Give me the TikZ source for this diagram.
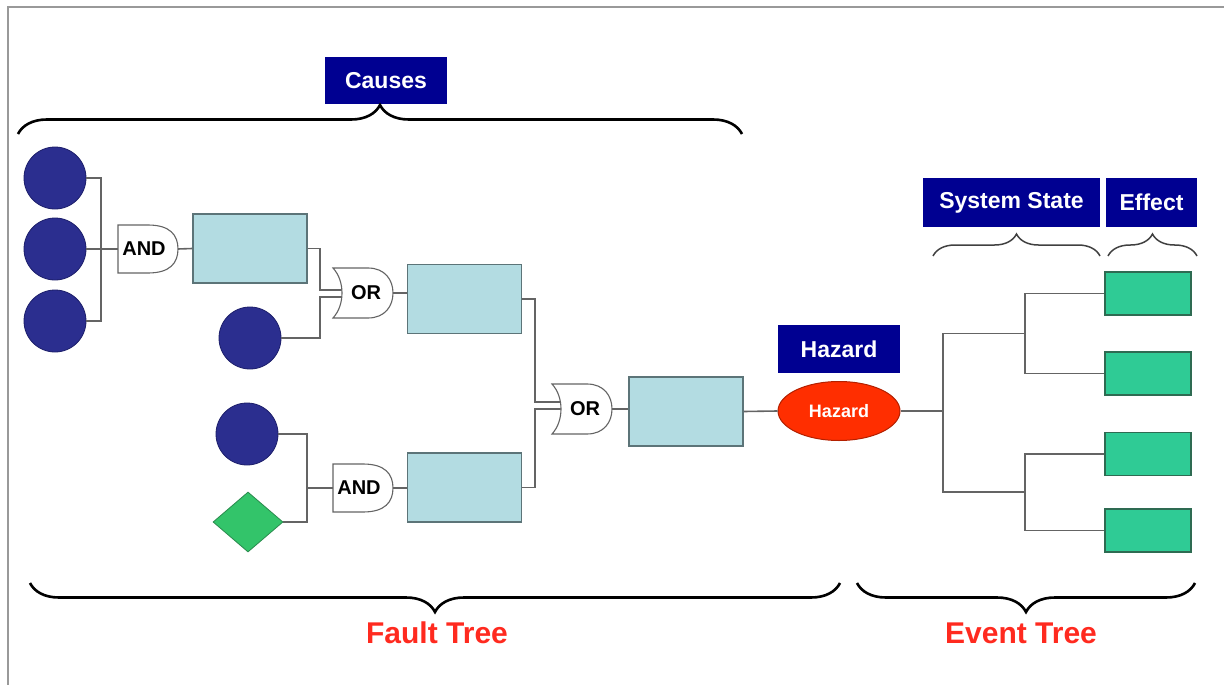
\documentclass[tikz,border=0pt]{standalone}
\usepackage{fontspec}
\setmainfont{Liberation Sans}
\usetikzlibrary{shapes.geometric,decorations.pathreplacing,calc}
\definecolor{lblblue}{RGB}{0,0,145}
\definecolor{evblue}{RGB}{43,46,143}
\definecolor{evbluedk}{RGB}{28,30,106}
\definecolor{boxblue}{RGB}{179,220,226}
\definecolor{boxbluedk}{RGB}{92,116,120}
\definecolor{effgreen}{RGB}{47,203,149}
\definecolor{effgreendk}{RGB}{46,107,82}
\definecolor{diagreen}{RGB}{51,196,106}
\definecolor{diagreendk}{RGB}{42,138,77}
\definecolor{hazred}{RGB}{255,46,0}
\definecolor{hazreddk}{RGB}{179,32,0}
\definecolor{txtred}{RGB}{255,42,31}
\definecolor{wiregray}{RGB}{100,100,100}
\newcommand\andgateshape[2]{%
  \draw[gate] ({#1-30},{#2-24}) -- ({#1},{#2-24})
    .. controls ({#1+22},{#2-24}) and ({#1+30},{#2-14}) .. ({#1+30},{#2})
    .. controls ({#1+30},{#2+14}) and ({#1+22},{#2+24}) .. ({#1},{#2+24})
    -- ({#1-30},{#2+24}) -- cycle;}
\newcommand\orgateshape[2]{%
  \draw[gate] ({#1-30},{#2-25}) -- ({#1+5},{#2-25})
    .. controls ({#1+22},{#2-25}) and ({#1+30},{#2-13}) .. ({#1+30},{#2})
    .. controls ({#1+30},{#2+13}) and ({#1+22},{#2+25}) .. ({#1+5},{#2+25})
    -- ({#1-30},{#2+25})
    .. controls ({#1-18},{#2+12}) and ({#1-18},{#2-12}) .. ({#1-30},{#2-25}) -- cycle;}
\begin{document}
\begin{tikzpicture}[x=1pt,y=-1pt,
  lbl/.style={fill=lblblue,draw=none,text=white,inner sep=0pt,
    font=\fontsize{23}{26}\selectfont\bfseries},
  evcircle/.style={circle,fill=evblue,draw=evbluedk,line width=0.8pt,minimum size=62pt,inner sep=0pt},
  fbox/.style={rectangle,fill=boxblue,draw=boxbluedk,line width=1.5pt,minimum width=114pt,minimum height=69pt,inner sep=0pt},
  effbox/.style={rectangle,fill=effgreen,draw=effgreendk,line width=1.5pt,minimum width=86pt,minimum height=43pt,inner sep=0pt},
  gate/.style={fill=white,draw=wiregray,line width=1.1pt},
  gatetxt/.style={draw=none,inner sep=0pt,minimum width=60pt,minimum height=48pt,
    font=\fontsize{20}{22}\selectfont\bfseries},
  wire/.style={draw=wiregray,line width=1.6pt},
  bigbrace/.style={decorate,decoration={brace,amplitude=29pt},line width=2.6pt,black},
  smallbrace/.style={decorate,decoration={brace,amplitude=22pt},line width=1.5pt,black!75},
  treetxt/.style={text=txtred,font=\fontsize{30}{33}\selectfont\bfseries}
]
\useasboundingbox (0,0) rectangle (1224,685);
% frame
\draw[gray!80,line width=2pt] (8,685) -- (8,7) -- (1224,7);

% ---------- Nodes ----------
\node[evcircle] (c1) at (55,178) {};
\node[evcircle] (c2) at (55,249) {};
\node[evcircle] (c3) at (55,321) {};
\node[evcircle] (c4) at (250,338) {};
\node[evcircle] (c5) at (247,434) {};
\node[diamond,fill=diagreen,draw=diagreendk,line width=0.8pt,minimum width=70pt,minimum height=60pt,inner sep=0pt] (d1) at (248,522) {};

\node[fbox] (b1) at (250,248.5) {};
\node[fbox] (b2) at (464.5,299) {};
\node[fbox] (b3) at (464.5,487.5) {};
\node[fbox] (b4) at (686,411.5) {};

\node[ellipse,fill=hazred,draw=hazreddk,line width=1pt,minimum width=122pt,minimum height=59pt,inner sep=0pt,
  text=white,font=\fontsize{18}{20}\selectfont\bfseries] (hz) at (839,411) {Hazard};

\node[effbox] (e1) at (1148,293.5) {};
\node[effbox] (e2) at (1148,373.5) {};
\node[effbox] (e3) at (1148,454) {};
\node[effbox] (e4) at (1148,530.5) {};

% labels
\node[lbl,minimum width=122pt,minimum height=47pt] (causes) at (386,80.5) {Causes};
\node[lbl,minimum width=122pt,minimum height=48pt] (hzlbl) at (839,349) {Hazard};
\node[lbl,minimum width=177pt,minimum height=49pt] (sys) at (1011.5,202.5) {System State};
\node[lbl,minimum width=91pt,minimum height=49pt] (eff) at (1151.5,202.5) {Effect};

% junction coordinates
\coordinate (j1) at (101,249);
\coordinate (j2) at (320,293);
\coordinate (j3) at (307,488);
\coordinate (j4) at (535,405);
\coordinate (k1) at (943,411);
\coordinate (k2) at (1025,333.5);
\coordinate (k3) at (1025,492);
\coordinate (or1a) at (342,290);
\coordinate (or1b) at (342,297);
\coordinate (or2a) at (561,402);
\coordinate (or2b) at (561,409);

% ---------- Wires ----------
\draw[wire] (c1.east) -| (j1);
\draw[wire] (c3.east) -| (j1);
\draw[wire] (c2.east) -- (118,249);
\draw[wire] (178,249) -- (b1.west);
\draw[wire] (b1.east) -| (or1a -| j2) -- (or1a);
\draw[wire] (c4.east) -| (or1b -| j2) -- (or1b);
\draw[wire] (393,293) -- (393,293 -| b2.west);
\draw[wire] (c5.east) -| (j3);
\draw[wire] (d1.east) -| (j3);
\draw[wire] (j3) -- (333,488);
\draw[wire] (393,488) -- (393,488 -| b3.west);
\draw[wire] (b2.east) -| (or2a -| j4) -- (or2a);
\draw[wire] (b3.east) -| (or2b -| j4) -- (or2b);
\draw[wire] (612,409) -- (612,409 -| b4.west);
\draw[wire] (b4.east) -- (hz.west);
\draw[wire] (hz.east) -- (k1);
\draw[wire] (k1) |- (k2);
\draw[wire] (k1) |- (k3);
\draw[wire] (e1.west) -| (k2);
\draw[wire] (e2.west) -| (k2);
\draw[wire] (e3.west) -| (k3);
\draw[wire] (e4.west) -| (k3);

% ---------- Gates ----------
\andgateshape{148}{249}
\node[gatetxt] (and1) at (144,249) {AND};
\orgateshape{363}{293}
\node[gatetxt] (or1) at (366,293) {OR};
\andgateshape{363}{488}
\node[gatetxt] (and2) at (359,488) {AND};
\orgateshape{582}{409}
\node[gatetxt] (or2) at (585,409) {OR};

% ---------- Braces ----------
\draw[bigbrace] (18,134) -- (742,134);
\draw[bigbrace] (840,583) -- (30,583);
\draw[bigbrace] (1195,583) -- (857,583);
\draw[smallbrace] (933,256) -- (1100,256);
\draw[smallbrace] (1108,256) -- (1197,256);

% ---------- Texts ----------
\node[treetxt] (ft) at (437,633) {Fault Tree};
\node[treetxt] (et) at (1021,633) {Event Tree};
\end{tikzpicture}
\end{document}
